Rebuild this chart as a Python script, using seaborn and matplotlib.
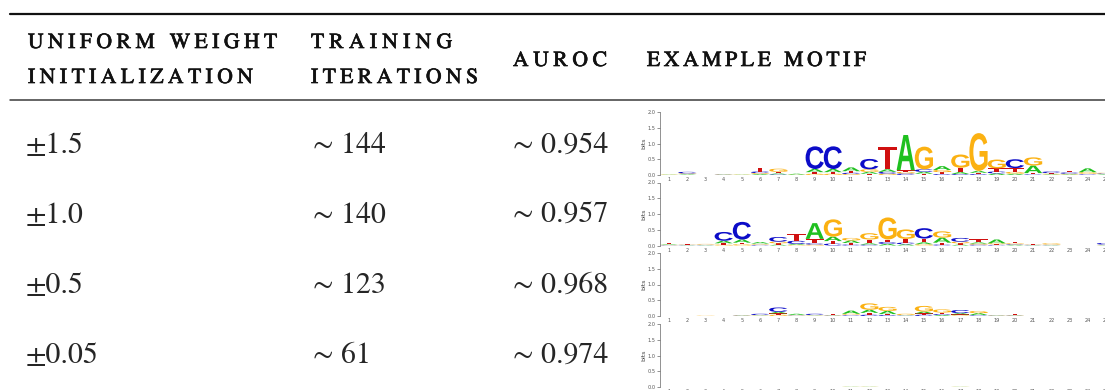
import matplotlib
matplotlib.use("Agg")
import matplotlib.pyplot as plt
import matplotlib.patheffects as pe
import seaborn as sns
from matplotlib.textpath import TextPath
from matplotlib.patches import PathPatch
from matplotlib.font_manager import FontProperties
from matplotlib.transforms import Affine2D
from matplotlib.lines import Line2D

# ---------------- table content ----------------
header_col1 = ["UNIFORM WEIGHT", "INITIALIZATION"]
header_col2 = ["TRAINING", "ITERATIONS"]
header_col3 = ["AUROC"]
header_col4 = ["EXAMPLE MOTIF"]

init_labels = ["±1.5", "±1.0", "±0.5", "±0.05"]
train_iters = [144, 140, 123, 61]
auroc = [0.954, 0.957, 0.968, 0.974]

positions = list(range(1, 26))
bases = ["A", "C", "G", "T"]

# per-position letter heights (bits) for each motif logo
m1_A = [0.01, 0.02, 0.00, 0.01, 0.01, 0.03, 0.03, 0.03, 0.10, 0.10, 0.12, 0.06, 0.08,
        1.12, 0.06, 0.12, 0.06, 0.06, 0.05, 0.04, 0.24, 0.02, 0.02, 0.12, 0.02]
m1_C = [0.00, 0.05, 0.00, 0.01, 0.00, 0.05, 0.02, 0.00, 0.72, 0.72, 0.04, 0.33, 0.06,
        0.05, 0.08, 0.03, 0.03, 0.03, 0.06, 0.28, 0.02, 0.05, 0.04, 0.02, 0.02]
m1_G = [0.01, 0.02, 0.00, 0.01, 0.01, 0.03, 0.10, 0.01, 0.04, 0.04, 0.03, 0.08, 0.04,
        0.05, 0.72, 0.07, 0.42, 1.20, 0.28, 0.06, 0.26, 0.02, 0.02, 0.05, 0.02]
m1_T = [0.01, 0.01, 0.00, 0.01, 0.01, 0.12, 0.05, 0.00, 0.05, 0.05, 0.05, 0.04, 0.72,
        0.05, 0.04, 0.06, 0.14, 0.04, 0.10, 0.12, 0.04, 0.02, 0.04, 0.02, 0.01]

m2_A = [0.02, 0.01, 0.01, 0.08, 0.10, 0.05, 0.03, 0.03, 0.50, 0.14, 0.08, 0.04, 0.05,
        0.04, 0.06, 0.16, 0.03, 0.04, 0.12, 0.02, 0.01, 0.01, 0.00, 0.00, 0.01]
m2_C = [0.01, 0.01, 0.01, 0.28, 0.56, 0.02, 0.15, 0.10, 0.04, 0.06, 0.03, 0.03, 0.06,
        0.05, 0.33, 0.03, 0.12, 0.03, 0.02, 0.02, 0.01, 0.01, 0.00, 0.00, 0.05]
m2_G = [0.01, 0.01, 0.02, 0.03, 0.04, 0.02, 0.05, 0.02, 0.03, 0.55, 0.08, 0.20, 0.70,
        0.30, 0.04, 0.20, 0.05, 0.03, 0.03, 0.03, 0.01, 0.04, 0.00, 0.00, 0.01]
m2_T = [0.04, 0.01, 0.01, 0.04, 0.05, 0.02, 0.04, 0.22, 0.14, 0.08, 0.05, 0.12, 0.08,
        0.12, 0.12, 0.06, 0.04, 0.10, 0.02, 0.04, 0.01, 0.01, 0.00, 0.00, 0.01]

m3_A = [0.00, 0.00, 0.00, 0.00, 0.01, 0.01, 0.05, 0.04, 0.01, 0.01, 0.10, 0.10, 0.10,
        0.01, 0.06, 0.03, 0.04, 0.06, 0.01, 0.01, 0.00, 0.00, 0.00, 0.00, 0.00]
m3_C = [0.00, 0.00, 0.00, 0.00, 0.01, 0.04, 0.14, 0.01, 0.04, 0.01, 0.02, 0.04, 0.03,
        0.01, 0.04, 0.03, 0.10, 0.02, 0.01, 0.01, 0.00, 0.00, 0.00, 0.00, 0.00]
m3_G = [0.00, 0.00, 0.01, 0.00, 0.01, 0.01, 0.04, 0.01, 0.01, 0.01, 0.03, 0.20, 0.13,
        0.04, 0.18, 0.10, 0.02, 0.07, 0.01, 0.01, 0.00, 0.00, 0.00, 0.00, 0.00]
m3_T = [0.00, 0.00, 0.00, 0.00, 0.01, 0.01, 0.04, 0.01, 0.01, 0.04, 0.02, 0.06, 0.03,
        0.01, 0.04, 0.05, 0.03, 0.01, 0.01, 0.03, 0.00, 0.00, 0.00, 0.00, 0.00]

m4_A = [0.00, 0.00, 0.00, 0.00, 0.00, 0.00, 0.00, 0.00, 0.00, 0.00, 0.006, 0.006, 0.00,
        0.00, 0.00, 0.00, 0.005, 0.00, 0.00, 0.00, 0.00, 0.00, 0.00, 0.00, 0.00]
m4_C = [0.00] * 25
m4_G = [0.00, 0.00, 0.00, 0.00, 0.00, 0.00, 0.00, 0.00, 0.00, 0.00, 0.005, 0.006, 0.00,
        0.00, 0.00, 0.00, 0.005, 0.00, 0.00, 0.00, 0.00, 0.00, 0.00, 0.00, 0.00]
m4_T = [0.00, 0.004, 0.00, 0.004, 0.004, 0.00, 0.004, 0.00, 0.00, 0.00, 0.00, 0.00, 0.00,
        0.00, 0.00, 0.00, 0.00, 0.00, 0.00, 0.00, 0.00, 0.00, 0.00, 0.00, 0.00]

motifs = [
    {"A": m1_A, "C": m1_C, "G": m1_G, "T": m1_T},
    {"A": m2_A, "C": m2_C, "G": m2_G, "T": m2_T},
    {"A": m3_A, "C": m3_C, "G": m3_G, "T": m3_T},
    {"A": m4_A, "C": m4_C, "G": m4_G, "T": m4_T},
]

base_colors = {"A": "#1fc01f", "C": "#0c0cc8", "G": "#fbb112", "T": "#d01010"}

# ---------------- figure ----------------
W, H = 1105, 390
sns.set_style("white")
fig = plt.figure(figsize=(W / 100, H / 100), dpi=100)


def fx(px):
    return px / W


def fy(py):
    return 1 - py / H


header_font = FontProperties(family="STIXGeneral", size=15.5)
value_font = FontProperties(family="STIXGeneral", size=21.5)
logo_font = FontProperties(family="Liberation Sans", weight="bold")
ink = [pe.withStroke(linewidth=0.5, foreground="#111111")]

renderer = fig.canvas.get_renderer()


def glyph_width(ch, fp):
    t = fig.text(0, 0, ch, fontproperties=fp)
    w = t.get_window_extent(renderer).width
    t.remove()
    return w


def tracked_text(x0, x1, baseline, s, fp):
    """Letter-spaced caps spread between x0 and x1 (pixels)."""
    words = s.split(" ")
    widths = [[glyph_width(c, fp) for c in w] for w in words]
    space = 0.28 * fp.get_size() * 100 / 72
    n_gaps = sum(len(w) - 1 for w in words) + 2 * (len(words) - 1)
    natural = sum(sum(w) for w in widths) + space * (len(words) - 1)
    track = (x1 - x0 - natural) / max(n_gaps, 1)
    x = x0
    for word, ws in zip(words, widths):
        for c, cw in zip(word, ws):
            fig.text(fx(x), fy(baseline), c, fontproperties=fp, ha="left",
                     va="baseline", color="#111111", path_effects=ink)
            x += cw + track
        x += space + track


# rules
fig.add_artist(Line2D([fx(10), 1], [fy(13.5), fy(13.5)], color="#111111", lw=1.6))
fig.add_artist(Line2D([fx(10), 1], [fy(100), fy(100)], color="#3a3a3a", lw=1.1))

# column headers
tracked_text(28, 277, 48, header_col1[0], header_font)
tracked_text(28, 253, 83, header_col1[1], header_font)
tracked_text(311, 452, 48, header_col2[0], header_font)
tracked_text(311, 478, 83, header_col2[1], header_font)
tracked_text(513, 607, 66, header_col3[0], header_font)
tracked_text(647, 866, 66, header_col4[0], header_font)

# body values
row_baselines = [153, 223, 293, 363]
for yb, lab, it, au in zip(row_baselines, init_labels, train_iters, auroc):
    fig.text(fx(26), fy(yb), lab, fontproperties=value_font, ha="left", va="baseline")
    fig.text(fx(313), fy(yb), f"∼ {it}", fontproperties=value_font, ha="left", va="baseline")
    fig.text(fx(513), fy(yb), f"∼ {au:.3f}", fontproperties=value_font, ha="left", va="baseline")


def draw_letter(ax, ch, x, y0, h, color, width=1.0):
    tp = TextPath((0, 0), ch, size=1, prop=logo_font)
    bb = tp.get_extents()
    tr = (Affine2D().translate(-bb.x0, -bb.y0)
          .scale(width / bb.width, h / bb.height)
          .translate(x - width / 2, y0))
    ax.add_patch(PathPatch(tr.transform_path(tp), facecolor=color,
                           edgecolor="none", lw=0))


# sequence logos
logo_left = 660
logo_width = 455
logo_bottoms = [175, 245.5, 316, 387]
logo_height = 63
for motif, yb in zip(motifs, logo_bottoms):
    ax = fig.add_axes([fx(logo_left), fy(yb), logo_width / W, logo_height / H])
    for i, p in enumerate(positions):
        stack = sorted(((motif[b][i], b) for b in bases), key=lambda t: t[0])
        y = 0.0
        for h, b in stack:
            if h > 0:
                draw_letter(ax, b, p, y, h, base_colors[b])
                y += h
    ax.set_xlim(0.5, 25.5)
    ax.set_ylim(0, 2)
    ax.set_yticks([0, 0.5, 1.0, 1.5, 2.0])
    ax.set_yticklabels(["0.0", "0.5", "1.0", "1.5", "2.0"])
    ax.set_xticks(positions)
    ax.set_xticklabels([str(p) for p in positions])
    ax.tick_params(axis="y", length=2, width=0.5, color="#666666", labelsize=3.6,
                   labelcolor="#555555", pad=1, left=True)
    ax.tick_params(axis="x", length=0, labelsize=3.6, labelcolor="#555555", pad=1.5)
    ax.set_ylabel("bits", fontsize=4.5, color="#444444", labelpad=1)
    sns.despine(ax=ax, top=True, right=True, bottom=True, left=False)
    ax.spines["left"].set_color("#666666")
    ax.spines["left"].set_linewidth(0.5)
    ax.patch.set_alpha(0)

fig.savefig("out.png", dpi=100)
